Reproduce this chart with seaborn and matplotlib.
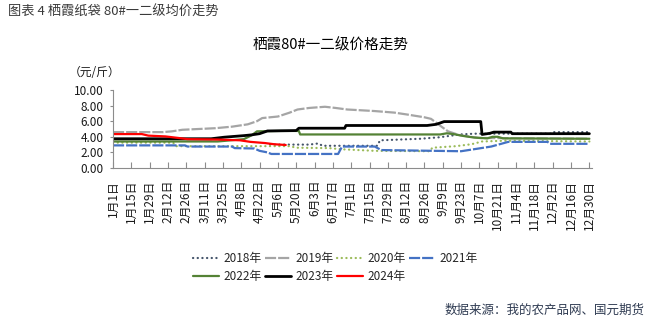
import matplotlib
matplotlib.use("Agg")
import matplotlib.pyplot as plt
import seaborn as sns
import pandas as pd

# ---- data: day of year (0 = 1月1日) and price in 元/斤 ----
years = ["2018年", "2019年", "2020年", "2021年", "2022年", "2023年", "2024年"]

days_2018 = [120, 150, 157, 160, 202, 204, 235, 250, 265, 276, 336, 337, 364]
price_2018 = [3.0, 3.0, 3.15, 2.85, 2.85, 3.55, 3.75, 3.95, 4.3, 4.4, 4.4, 4.6, 4.6]

days_2019 = [0, 38, 45, 53, 78, 91, 103, 110, 114, 126, 135, 141, 150, 162, 170,
             179, 200, 215, 225, 238, 243, 251, 256, 265, 280, 364]
price_2019 = [4.6, 4.6, 4.7, 4.9, 5.1, 5.3, 5.6, 6.0, 6.4, 6.6, 7.1, 7.5, 7.7, 7.85, 7.7,
              7.5, 7.3, 7.1, 6.85, 6.5, 6.3, 5.3, 4.7, 4.2, 3.85, 3.75]

days_2020 = [0, 46, 48, 135, 140, 165, 175, 200, 242, 244, 262, 274, 282, 300, 364]
price_2020 = [3.25, 3.25, 2.8, 2.8, 2.6, 2.55, 2.4, 2.2, 2.15, 2.6, 2.8, 3.05, 3.4, 3.5, 3.4]

days_2021 = [0, 55, 57, 91, 93, 108, 112, 118, 121, 172, 175, 200, 205, 266, 289,
             302, 332, 334, 364]
price_2021 = [2.9, 2.9, 2.75, 2.75, 2.55, 2.5, 2.2, 2.0, 1.8, 1.8, 2.75, 2.75, 2.3, 2.15, 2.75,
              3.35, 3.35, 3.1, 3.1]

days_2022 = [0, 80, 90, 100, 106, 110, 128, 142, 143, 250, 255, 260, 268, 276, 286,
             290, 294, 298, 364]
price_2022 = [3.4, 3.4, 3.55, 3.7, 4.2, 4.7, 4.75, 4.75, 4.3, 4.3, 4.45, 4.35, 4.1, 3.9, 3.8,
              4.0, 4.0, 3.8, 3.75]

days_2023 = [0, 75, 85, 100, 106, 112, 118, 140, 142, 177, 178, 240, 247, 253, 281,
             282, 288, 291, 304, 305, 364]
price_2023 = [3.75, 3.75, 3.95, 4.15, 4.25, 4.4, 4.75, 4.8, 5.1, 5.1, 5.45, 5.45, 5.6, 5.95, 5.95,
              4.3, 4.45, 4.6, 4.6, 4.4, 4.4]

days_2024 = [0, 22, 27, 40, 50, 57, 80, 97, 105, 116, 123, 132]
price_2024 = [4.35, 4.35, 4.15, 4.05, 3.85, 3.7, 3.65, 3.55, 3.35, 3.2, 3.05, 2.95]

tick_days = list(range(0, 365, 14))
tick_labels = ["1月1日", "1月15日", "1月29日", "2月12日", "2月26日", "3月11日", "3月25日",
               "4月8日", "4月22日", "5月6日", "5月20日", "6月3日", "6月17日", "7月1日",
               "7月15日", "7月29日", "8月12日", "8月26日", "9月9日", "9月23日", "10月7日",
               "10月21日", "11月4日", "11月18日", "12月2日", "12月16日", "12月30日"]

series = {
    "2018年": (days_2018, price_2018),
    "2019年": (days_2019, price_2019),
    "2020年": (days_2020, price_2020),
    "2021年": (days_2021, price_2021),
    "2022年": (days_2022, price_2022),
    "2023年": (days_2023, price_2023),
    "2024年": (days_2024, price_2024),
}
frames = [pd.DataFrame({"day": d, "price": p, "year": y}) for y, (d, p) in series.items()]
df = pd.concat(frames, ignore_index=True)

palette = {
    "2018年": "#44546A",
    "2019年": "#A5A5A5",
    "2020年": "#9BBB59",
    "2021年": "#4472C4",
    "2022年": "#548235",
    "2023年": "#000000",
    "2024年": "#FF0000",
}
dash_map = {
    "2018年": (0.1, 2.0),
    "2019年": (5.0, 0.9),
    "2020年": (0.1, 2.0),
    "2021年": (5.0, 0.9),
    "2022年": "",
    "2023年": "",
    "2024年": "",
}

sns.set_theme(style="white")
plt.rcParams["font.family"] = ["Noto Sans CJK SC", "DejaVu Sans"]
plt.rcParams["axes.unicode_minus"] = False

fig = plt.figure(figsize=(6.49, 3.22), dpi=100)
ax = fig.add_axes([113 / 649, 1 - 168 / 322, 479 / 649, 78 / 322])

sns.lineplot(data=df, x="day", y="price", hue="year", style="year",
             hue_order=years, style_order=years, palette=palette, dashes=dash_map,
             estimator=None, sort=False, linewidth=1.6, ax=ax, legend=False)

lines = ax.lines[:len(years)]
for ln, y in zip(lines, years):
    if y in ("2018年", "2020年"):
        ln.set_dash_capstyle("round")
    if y == "2023年":
        ln.set_linewidth(2.0)

ax.set_xlim(0, 366)
ax.set_ylim(0, 10)
ax.set_yticks([0, 2, 4, 6, 8, 10])
ax.set_yticklabels([f"{v:.2f}" for v in [0, 2, 4, 6, 8, 10]])
ax.set_xticks(tick_days)
ax.set_xticklabels(tick_labels, rotation=90, va="top", ha="center")
ax.set_xlabel("")
ax.set_ylabel("")

for side in ("top", "right"):
    ax.spines[side].set_visible(False)
for side in ("left", "bottom"):
    ax.spines[side].set_color("#8C8C8C")
    ax.spines[side].set_linewidth(0.8)

ax.tick_params(axis="y", direction="out", length=2.5, width=0.8, color="#8C8C8C",
               pad=4.3, labelsize=8.5, labelcolor="#1A1A1A", left=True)
ax.tick_params(axis="x", direction="in", length=4, width=0.8, color="#8C8C8C",
               pad=8.6, labelsize=8.5, labelcolor="#1A1A1A", bottom=True)

# titles and notes
fig.text(8 / 649, 1 - 12 / 322, "图表 4 栖霞纸袋 80#一二级均价走势", fontsize=9.5,
         color="#3A3A3A", ha="left", va="center")
fig.text(331 / 649, 1 - 45 / 322, "栖霞80#一二级价格走势", fontsize=10.5,
         color="#000000", ha="center", va="center")
fig.text(95 / 649, 1 - 72 / 322, "（元/斤）", fontsize=8.5, color="#1A1A1A",
         ha="center", va="center")
fig.text(645 / 649, 1 - 310 / 322, "数据来源：我的农产品网、国元期货", fontsize=9,
         color="#2F3B52", ha="right", va="center")

# legend filled row by row: 2018-2021 on top, 2022-2024 below
order = [0, 4, 1, 5, 2, 6, 3]
fig.legend([lines[i] for i in order], [years[i] for i in order], loc="upper left",
           bbox_to_anchor=(193 / 649, 1 - 252 / 322), ncol=4, frameon=False, fontsize=8.5,
           handlelength=2.2, handletextpad=0.4, columnspacing=0.25, labelspacing=0.45,
           borderpad=0, borderaxespad=0)

fig.savefig("out.png", dpi=100, facecolor="white")
